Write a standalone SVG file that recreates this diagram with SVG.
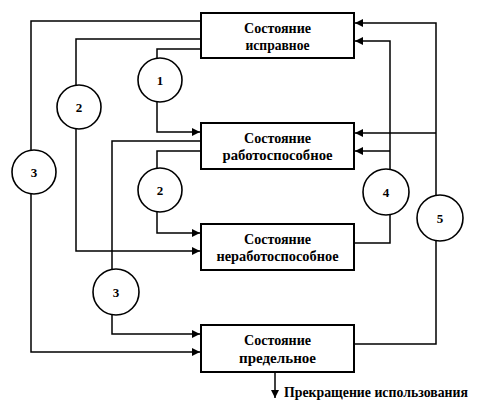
<svg xmlns="http://www.w3.org/2000/svg" width="477" height="407" viewBox="0 0 477 407">
<defs>
<marker id="ah" viewBox="0 0 10 10" refX="10" refY="5" markerWidth="9" markerHeight="8" markerUnits="userSpaceOnUse" orient="auto">
<path d="M0,0 L10,5 L0,10 Z" fill="#000"/>
</marker>
<style>
.box{fill:#fff;stroke:#000;stroke-width:2}
.c{fill:#fff;stroke:#000;stroke-width:1.6}
.ln{fill:none;stroke:#000;stroke-width:1.5}
.t{font-family:"Liberation Serif","Times New Roman",serif;font-size:15px;font-weight:bold;text-anchor:middle;fill:#000}
.n{font-family:"Liberation Serif","Times New Roman",serif;font-size:13px;font-weight:bold;text-anchor:middle;fill:#000}
.lbl{font-family:"Liberation Serif","Times New Roman",serif;font-size:14.5px;font-weight:bold;fill:#000}
</style>
</defs>
<rect width="477" height="407" fill="#fff"/>
<g id="connectors">
<polyline class="ln" points="201,21 31,21 31,352 200,352" marker-end="url(#ah)"/>
<polyline class="ln" points="201,39 76,39 76,251 200,251" marker-end="url(#ah)"/>
<polyline class="ln" points="201,49 157,49 157,132 200,132" marker-end="url(#ah)"/>
<polyline class="ln" points="201,151 157,151 157,233 200,233" marker-end="url(#ah)"/>
<polyline class="ln" points="201,141 112,141 112,334 200,334" marker-end="url(#ah)"/>
<polyline class="ln" points="354,243 390,243 390,41 355,41" marker-end="url(#ah)"/>
<polyline class="ln" points="390,151 355,151" marker-end="url(#ah)"/>
<polyline class="ln" points="354,344 436,344 436,23 355,23" marker-end="url(#ah)"/>
<polyline class="ln" points="436,133 355,133" marker-end="url(#ah)"/>
<polyline class="ln" points="275,372 275,398" marker-end="url(#ah)"/>
</g>
<g id="node-ispravnoe">
<rect class="box" x="201" y="13" width="153" height="45"/>
<text class="t" x="277.5" y="33" textLength="67" lengthAdjust="spacingAndGlyphs">Состояние</text>
<text class="t" x="277.5" y="50" textLength="64" lengthAdjust="spacingAndGlyphs">исправное</text>
</g>
<g id="node-rabotosposobnoe">
<rect class="box" x="201" y="123" width="153" height="46"/>
<text class="t" x="277.5" y="143" textLength="67" lengthAdjust="spacingAndGlyphs">Состояние</text>
<text class="t" x="277.5" y="160" textLength="110" lengthAdjust="spacingAndGlyphs">работоспособное</text>
</g>
<g id="node-nerabotosposobnoe">
<rect class="box" x="201" y="224" width="153" height="46"/>
<text class="t" x="277.5" y="244" textLength="67" lengthAdjust="spacingAndGlyphs">Состояние</text>
<text class="t" x="277.5" y="261" textLength="122" lengthAdjust="spacingAndGlyphs">неработоспособное</text>
</g>
<g id="node-predelnoe">
<rect class="box" x="201" y="325" width="153" height="47"/>
<text class="t" x="277.5" y="345" textLength="67" lengthAdjust="spacingAndGlyphs">Состояние</text>
<text class="t" x="277.5" y="363" textLength="77" lengthAdjust="spacingAndGlyphs">предельное</text>
</g>
<g id="circle-1"><circle class="c" cx="160" cy="80" r="22"/><text class="n" x="160" y="85">1</text></g>
<g id="circle-2a"><circle class="c" cx="79" cy="107" r="22"/><text class="n" x="79" y="112">2</text></g>
<g id="circle-3a"><circle class="c" cx="34" cy="172" r="22"/><text class="n" x="34" y="177">3</text></g>
<g id="circle-2b"><circle class="c" cx="160" cy="190" r="22"/><text class="n" x="160" y="195">2</text></g>
<g id="circle-3b"><circle class="c" cx="116" cy="292" r="23"/><text class="n" x="116" y="297">3</text></g>
<g id="circle-4"><circle class="c" cx="386" cy="192" r="23"/><text class="n" x="386" y="197">4</text></g>
<g id="circle-5"><circle class="c" cx="440" cy="218" r="23"/><text class="n" x="440" y="223">5</text></g>
<g id="label-end">
<text class="lbl" x="284" y="397" textLength="184" lengthAdjust="spacingAndGlyphs">Прекращение использования</text>
</g>
</svg>
